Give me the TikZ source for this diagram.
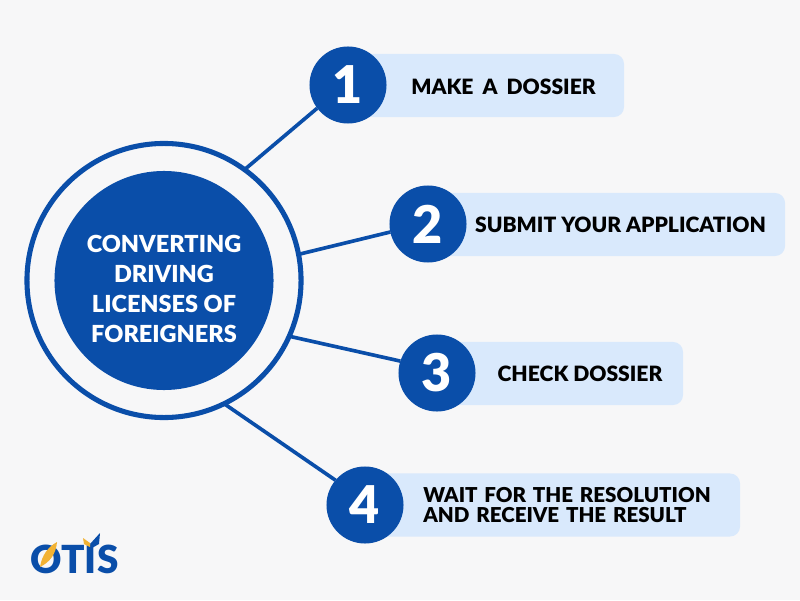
\documentclass[tikz,border=0pt]{standalone}
\usepackage{fontspec}
\setmainfont{Lato}[BoldFont=Lato Black]
\usepackage{tikz}
\usetikzlibrary{calc}
\definecolor{bgcol}{HTML}{F7F7F8}
\definecolor{bluecol}{HTML}{0A4EA9}
\definecolor{barcol}{HTML}{D9E9FC}
\definecolor{yellowcol}{HTML}{F2B233}
\newcommand{\widewords}{\spaceskip=0.43em\relax}
\newcommand{\midwords}{\spaceskip=0.33em\relax}
\tikzset{
    ring/.style={circle,draw=bluecol,line width=3.6pt,minimum size=6.85cm,inner sep=0pt,outer sep=0pt},
    disc/.style={circle,fill=bluecol,minimum size=5.475cm,inner sep=0pt},
    title/.style={text=white,inner sep=0pt,align=center,font=\fontsize{16.7}{21.3}\selectfont\bfseries},
    number/.style={circle,fill=bluecol,text=white,minimum size=1.925cm,inner sep=0pt,outer sep=0pt,font=\fontsize{37}{37}\selectfont\bfseries},
    bar/.style={fill=barcol,rounded corners=0.25cm,minimum height=1.575cm,inner sep=0pt},
    label/.style={text=black,inner sep=0pt,align=left,font=\fontsize{15}{15}\selectfont\bfseries},
    widelabel/.style={text=black,inner sep=0pt,align=left,font=\fontsize{15}{15}\selectfont\bfseries\widewords},
    midlabel/.style={text=black,inner sep=0pt,align=left,font=\fontsize{14.6}{14.5}\selectfont\bfseries\midwords},
    link/.style={draw=bluecol,line width=2.6pt},
    logo/.style={text=bluecol,inner sep=0pt,font=\fontsize{27.5}{27.5}\selectfont\bfseries}
}
\begin{document}
\begin{tikzpicture}[x=0.025cm,y=0.025cm]
    \fill[bgcol](0,0) rectangle (800,600);
    % centre
    \node[ring] (ring) at (164,319.5){};
    \node[disc] (disc) at (164,319.5){};
    \node[title] (title) at (164,311){CONVERTING\\DRIVING\\LICENSES OF\\FOREIGNERS};
    % bars
    \node[bar,minimum width=6.9cm] (bar1) at (486,514.5){};
    \node[bar,minimum width=8.925cm] (bar2) at (606.5,375.5){};
    \node[bar,minimum width=6.15cm] (bar3) at (560,226.5){};
    \node[bar,minimum width=9.375cm] (bar4) at (552.5,95){};
    % numbers
    \node[number] (num1) at (348,515){1};
    \node[number] (num2) at (428,376){2};
    \node[number] (num3) at (437,227){3};
    \node[number] (num4) at (365,95){4};
    % labels
    \node[widelabel] (text1) at (503.5,513){MAKE A DOSSIER};
    \node[label] (text2) at (620.5,375){SUBMIT YOUR APPLICATION};
    \node[label] (text3) at (580,226){CHECK DOSSIER};
    \node[midlabel] (text4) at (567,95){WAIT FOR THE RESOLUTION\\AND RECEIVE THE RESULT};
    % links
    \draw[link](ring.54.6)--(num1.217.5);
    \draw[link](ring.11)--(num2.192.5);
    \draw[link](ring.-24.3)--(num3.162);
    \draw[link](ring.-64.5)--(num4.140);
    % logo
    \node[logo] (logotext) at (74.5,41){OTIS};
    \fill[yellowcol](40,33)..controls (42,45) and (48,53) .. (57,58)..controls (56,46) and (50,38) .. (40,33);
    \fill[bluecol](90,56)--(100,67)--(99,56)--(92,52)--cycle;
    \fill[yellowcol](83,62)--(90,57)--(90,53)--(84,56)--cycle;
\end{tikzpicture}
\end{document}
